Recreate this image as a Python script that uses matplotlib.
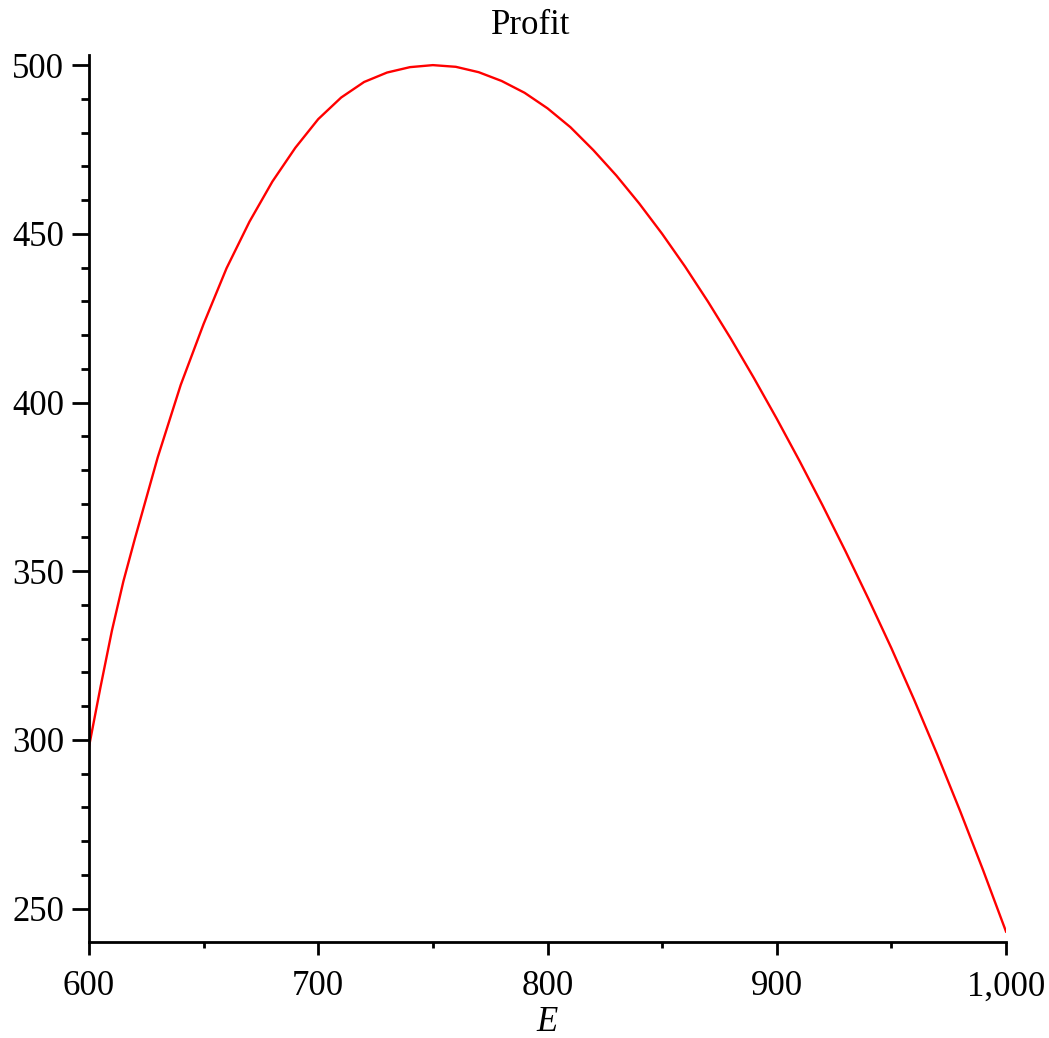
import numpy as np
import matplotlib
matplotlib.use("Agg")
import matplotlib.pyplot as plt
from matplotlib.ticker import MultipleLocator, FuncFormatter

# Values
effort = [600, 605, 610, 615, 620, 630, 640, 650, 660, 670, 680, 690,
          700, 710, 720, 730, 740, 750, 760, 770, 780, 790,
          800, 810, 820, 830, 840, 850, 860, 870, 880, 890,
          900, 910, 920, 930, 940, 950, 960, 970, 980, 990, 1000]
profit = [298.0, 315.6, 332.4, 347.0, 359.6, 383.8, 405.2, 423.3, 439.8, 453.6, 465.5, 475.5,
          484.0, 490.4, 495.0, 497.8, 499.4, 500.0, 499.5, 497.9, 495.3, 491.8,
          487.2, 481.6, 474.8, 467.3, 459.0, 450.0, 440.3, 429.9, 418.9, 407.3,
          395.2, 382.6, 369.5, 355.9, 341.8, 327.2, 311.8, 295.7, 278.9, 261.4, 243.2]

title = "Profit"
xlabel = "E"

plt.rcParams['font.family'] = ['Liberation Serif', 'DejaVu Serif']
plt.rcParams['font.size'] = 25

fig = plt.figure(figsize=(10.49, 10.38), dpi=100)
ax = fig.add_axes([89/1049, 96/1038, (1006-89)/1049, (942-55)/1038])

ax.plot(effort, profit, color='red', lw=1.7)

ax.set_xlim(600, 1000)
ax.set_ylim(240.1, 503.0)

for side in ['top', 'right']:
    ax.spines[side].set_visible(False)
for side in ['left', 'bottom']:
    ax.spines[side].set_linewidth(2.0)

ax.xaxis.set_major_locator(MultipleLocator(100))
ax.xaxis.set_minor_locator(MultipleLocator(50))
ax.yaxis.set_major_locator(MultipleLocator(50))
ax.yaxis.set_minor_locator(MultipleLocator(10))
ax.xaxis.set_major_formatter(FuncFormatter(lambda v, p: "{:,.0f}".format(v)))

ax.tick_params(axis='y', which='major', direction='out', length=12, width=2, pad=6)
ax.tick_params(axis='y', which='minor', direction='out', length=6, width=2)
ax.tick_params(axis='x', which='major', direction='out', length=9.5, width=2, pad=11)
ax.tick_params(axis='x', which='minor', direction='out', length=4.5, width=2)

ax.set_xlabel(xlabel, fontstyle='italic', labelpad=2)
fig.text(531/1049, 1 - 26/1038, title, ha='center', va='center')

fig.savefig("out.png", dpi=100)
